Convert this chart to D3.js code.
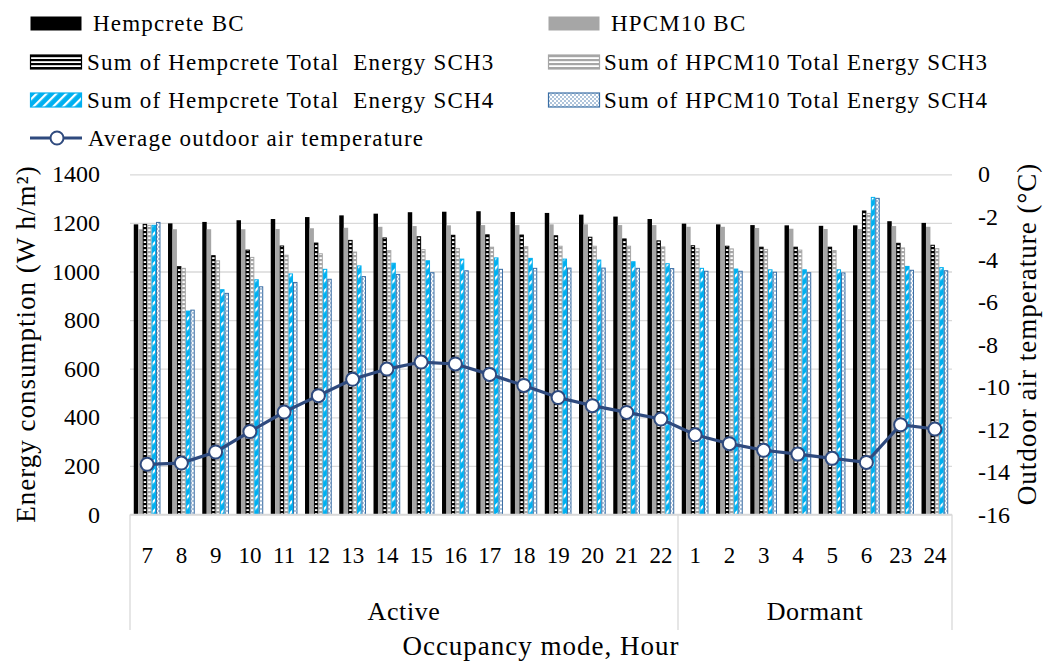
<!DOCTYPE html>
<html>
<head>
<meta charset="utf-8">
<script src="https://cdn.jsdelivr.net/npm/d3@7"></script>
<style>
  body { margin: 0; background: #fff; }
  svg text { font-family: "Liberation Serif", "Times New Roman", serif; fill: #000; white-space: pre; }
</style>
</head>
<body>
<svg width="1047" height="661"></svg>
<script>
var hours = ["7", "8", "9", "10", "11", "12", "13", "14", "15", "16", "17", "18", "19", "20", "21", "22",
    "1", "2", "3", "4", "5", "6", "23", "24"];
var modes = ["Active", "Dormant"];
var modeCounts = [16, 8];

var hempBC = [1194, 1198, 1204, 1211, 1216, 1224, 1231, 1238, 1244, 1246, 1248, 1245, 1241, 1234, 1226, 1216,
    1197, 1194, 1191, 1190, 1188, 1190, 1207, 1200];
var hpcmBC = [1174, 1174, 1174, 1174, 1175, 1178, 1180, 1184, 1187, 1190, 1191, 1191, 1194, 1194, 1191, 1191,
    1184, 1184, 1179, 1176, 1175, 1175, 1187, 1184];
var hempSCH3 = [1194, 1020, 1065, 1088, 1105, 1117, 1128, 1138, 1143, 1149, 1151, 1150, 1147, 1141, 1134, 1126,
    1106, 1104, 1100, 1100, 1100, 1249, 1116, 1108];
var hpcmSCH3 = [1190, 1013, 1044, 1058, 1067, 1073, 1080, 1086, 1090, 1095, 1100, 1102, 1104, 1104, 1104, 1101,
    1095, 1093, 1091, 1088, 1086, 1239, 1097, 1094];
var hempSCH4 = [1190, 837, 925, 966, 990, 1009, 1023, 1034, 1044, 1051, 1056, 1054, 1051, 1047, 1040, 1032,
    1013, 1010, 1007, 1007, 1007, 1305, 1021, 1016];
var hpcmSCH4 = [1202, 841, 910, 937, 955, 968, 979, 988, 995, 1003, 1009, 1013, 1014, 1014, 1013, 1012,
    1001, 1001, 997, 995, 994, 1301, 1005, 1003];
var outdoorTemp = [-13.64, -13.58, -13.06, -12.1, -11.18, -10.41, -9.64, -9.16, -8.83, -8.92, -9.41, -9.93, -10.5, -10.88, -11.2, -11.51,
    -12.25, -12.67, -12.98, -13.16, -13.36, -13.55, -11.78, -11.98];

var leftTicks = [0, 200, 400, 600, 800, 1000, 1200, 1400];
var rightTicks = [0, -2, -4, -6, -8, -10, -12, -14, -16];

var series = [
    { key: "hempBC", name: "Hempcrete BC", values: hempBC },
    { key: "hpcmBC", name: "HPCM10 BC", values: hpcmBC },
    { key: "hempSCH3", name: "Sum of Hempcrete Total  Energy SCH3", values: hempSCH3 },
    { key: "hpcmSCH3", name: "Sum of HPCM10 Total Energy SCH3", values: hpcmSCH3 },
    { key: "hempSCH4", name: "Sum of Hempcrete Total  Energy SCH4", values: hempSCH4 },
    { key: "hpcmSCH4", name: "Sum of HPCM10 Total Energy SCH4", values: hpcmSCH4 }
];

var svg = d3.select("svg"),
    width = +svg.attr("width"),
    height = +svg.attr("height");

var plot = { left: 130, right: 952, top: 174.3, bottom: 514.5 };

var gridColor = "#d9d9d9",
    lineColor = "#2f4a7e",
    cyan = "#00b0f0",
    dotBlue = "#3a6ea5",
    gray = "#a6a6a6";

// fill patterns for the scenario bars
var defs = svg.append("defs");

function stripePattern(id, color) {
    var p = defs.append("pattern").attr("id", id)
        .attr("patternUnits", "userSpaceOnUse")
        .attr("width", 4).attr("height", 4);
    p.append("rect").attr("width", 4).attr("height", 4).attr("fill", color);
    p.append("rect").attr("y", 1.2).attr("width", 4).attr("height", 1.8).attr("fill", "#fff");
}
stripePattern("pat-sch3-black", "#000");
stripePattern("pat-sch3-gray", gray);

var diag = defs.append("pattern").attr("id", "pat-sch4-cyan")
    .attr("patternUnits", "userSpaceOnUse")
    .attr("width", 7).attr("height", 7)
    .attr("patternTransform", "rotate(45)");
diag.append("rect").attr("width", 7).attr("height", 7).attr("fill", cyan);
diag.append("rect").attr("width", 2.2).attr("height", 7).attr("fill", "#fff");

var dots = defs.append("pattern").attr("id", "pat-sch4-dots")
    .attr("patternUnits", "userSpaceOnUse")
    .attr("width", 4).attr("height", 4);
dots.append("rect").attr("width", 4).attr("height", 4).attr("fill", "#fff");
dots.append("circle").attr("cx", 1).attr("cy", 1).attr("r", 0.75).attr("fill", dotBlue);
dots.append("circle").attr("cx", 3).attr("cy", 3).attr("r", 0.75).attr("fill", dotBlue);

var styles = {
    hempBC: { fill: "#000", stroke: "none" },
    hpcmBC: { fill: gray, stroke: "none" },
    hempSCH3: { fill: "url(#pat-sch3-black)", stroke: "#000" },
    hpcmSCH3: { fill: "url(#pat-sch3-gray)", stroke: gray },
    hempSCH4: { fill: "url(#pat-sch4-cyan)", stroke: cyan },
    hpcmSCH4: { fill: "url(#pat-sch4-dots)", stroke: dotBlue }
};

var x = d3.scaleBand()
    .domain(hours)
    .range([plot.left, plot.right])
    .paddingInner(0.22)
    .paddingOuter(0.11);

var xInner = d3.scaleBand()
    .domain(series.map(function (s) { return s.key; }))
    .range([0, x.bandwidth()]);

var y = d3.scaleLinear().domain([0, 1400]).range([plot.bottom, plot.top]);
var yTemp = d3.scaleLinear().domain([-16, 0]).range([plot.bottom, plot.top]);

// gridlines
svg.append("g")
    .attr("class", "grid")
    .call(d3.axisLeft(y).tickValues(leftTicks).tickSize(-(plot.right - plot.left)).tickFormat(""))
    .attr("transform", "translate(" + plot.left + ",0)")
    .call(function (g) {
        g.select(".domain").remove();
        g.selectAll("line").attr("stroke", gridColor).attr("stroke-width", 1.3);
    });

// bars
var groups = svg.append("g")
    .selectAll("g")
    .data(series)
    .enter().append("g");

groups.selectAll("rect")
    .data(function (s) {
        return s.values.map(function (v, i) { return { key: s.key, hour: hours[i], value: v }; });
    })
    .enter().append("rect")
    .attr("x", function (d) {
        var st = styles[d.key];
        return x(d.hour) + xInner(d.key) + (st.stroke === "none" ? 0 : 0.5);
    })
    .attr("y", function (d) { return y(d.value); })
    .attr("width", function (d) {
        return xInner.bandwidth() - (styles[d.key].stroke === "none" ? 0 : 1);
    })
    .attr("height", function (d) { return y(0) - y(d.value); })
    .attr("fill", function (d) { return styles[d.key].fill; })
    .attr("stroke", function (d) { return styles[d.key].stroke; })
    .attr("stroke-width", 1);

// x axis line + category separators
svg.append("line")
    .attr("x1", plot.left).attr("x2", plot.right)
    .attr("y1", plot.bottom).attr("y2", plot.bottom)
    .attr("stroke", gridColor).attr("stroke-width", 1.3);

var sepIdx = [0, modeCounts[0], hours.length];
var step = x.step();
function edge(i) { return plot.left + i * step; }

svg.append("g").selectAll("line")
    .data(sepIdx)
    .enter().append("line")
    .attr("x1", edge).attr("x2", edge)
    .attr("y1", plot.bottom).attr("y2", 630)
    .attr("stroke", gridColor).attr("stroke-width", 1.3);

svg.append("g").selectAll("text")
    .data(hours)
    .enter().append("text")
    .attr("x", function (d) { return x(d) + x.bandwidth() / 2; })
    .attr("y", 563)
    .attr("text-anchor", "middle")
    .attr("font-size", 23)
    .text(function (d) { return d; });

svg.append("g").selectAll("text")
    .data(modes)
    .enter().append("text")
    .attr("x", function (d, i) { return (edge(sepIdx[i]) + edge(sepIdx[i + 1])) / 2; })
    .attr("y", 620)
    .attr("text-anchor", "middle")
    .attr("font-size", 26)
    .attr("letter-spacing", 0.6)
    .text(function (d) { return d; });

// left axis labels
svg.append("g").selectAll("text")
    .data(leftTicks)
    .enter().append("text")
    .attr("x", 100)
    .attr("y", function (d) { return y(d); })
    .attr("dy", "0.34em")
    .attr("text-anchor", "end")
    .attr("font-size", 24)
    .text(function (d) { return d; });

// right axis labels
svg.append("g").selectAll("text")
    .data(rightTicks)
    .enter().append("text")
    .attr("x", 978)
    .attr("y", function (d) { return yTemp(d); })
    .attr("dy", "0.34em")
    .attr("text-anchor", "start")
    .attr("font-size", 24)
    .text(function (d) { return d; });

// axis titles
svg.append("text")
    .attr("transform", "translate(35,344) rotate(-90)")
    .attr("text-anchor", "middle")
    .attr("font-size", 27)
    .attr("letter-spacing", 1)
    .text("Energy consumption (W h/m²)");

svg.append("text")
    .attr("transform", "translate(1036,334) rotate(-90)")
    .attr("text-anchor", "middle")
    .attr("font-size", 27)
    .attr("letter-spacing", 1)
    .text("Outdoor air temperature (°C)");

svg.append("text")
    .attr("x", (plot.left + plot.right) / 2)
    .attr("y", 655)
    .attr("text-anchor", "middle")
    .attr("font-size", 27)
    .attr("letter-spacing", 1)
    .text("Occupancy mode, Hour");

// temperature line
var line = d3.line()
    .x(function (d, i) { return x(hours[i]) + x.bandwidth() / 2; })
    .y(function (d) { return yTemp(d); });

svg.append("path")
    .datum(outdoorTemp)
    .attr("fill", "none")
    .attr("stroke", lineColor)
    .attr("stroke-width", 3.2)
    .attr("d", line);

svg.append("g").selectAll("circle")
    .data(outdoorTemp)
    .enter().append("circle")
    .attr("cx", function (d, i) { return x(hours[i]) + x.bandwidth() / 2; })
    .attr("cy", function (d) { return yTemp(d); })
    .attr("r", 6.5)
    .attr("fill", "#fff")
    .attr("stroke", lineColor)
    .attr("stroke-width", 2);

// legend
var legendData = [
    { key: "hempBC", name: series[0].name, sx: 30, tx: 93, cy: 23.5 },
    { key: "hpcmBC", name: series[1].name, sx: 548, tx: 611, cy: 23.5 },
    { key: "hempSCH3", name: series[2].name, sx: 30, tx: 87, cy: 62 },
    { key: "hpcmSCH3", name: series[3].name, sx: 548, tx: 604, cy: 62 },
    { key: "hempSCH4", name: series[4].name, sx: 30, tx: 87, cy: 100 },
    { key: "hpcmSCH4", name: series[5].name, sx: 548, tx: 604, cy: 100 }
];

var legend = svg.append("g").attr("class", "legend");

legend.selectAll("rect")
    .data(legendData)
    .enter().append("rect")
    .attr("x", function (d) { return d.sx + 0.5; })
    .attr("y", function (d) { return d.cy - 7; })
    .attr("width", 51)
    .attr("height", 14)
    .attr("fill", function (d) { return styles[d.key].fill; })
    .attr("stroke", function (d) { return styles[d.key].stroke; })
    .attr("stroke-width", 1.2);

legend.selectAll("text")
    .data(legendData)
    .enter().append("text")
    .attr("x", function (d) { return d.tx; })
    .attr("y", function (d) { return d.cy + 7.5; })
    .attr("font-size", 23)
    .attr("letter-spacing", 1.2)
    .text(function (d) { return d.name; });

legend.append("line")
    .attr("x1", 30).attr("x2", 82)
    .attr("y1", 138).attr("y2", 138)
    .attr("stroke", lineColor).attr("stroke-width", 3.2);
legend.append("circle")
    .attr("cx", 57).attr("cy", 138).attr("r", 6.5)
    .attr("fill", "#fff").attr("stroke", lineColor).attr("stroke-width", 2);
legend.append("text")
    .attr("x", 88).attr("y", 145.5)
    .attr("font-size", 23)
    .attr("letter-spacing", 1.2)
    .text("Average outdoor air temperature");
</script>
</body>
</html>
